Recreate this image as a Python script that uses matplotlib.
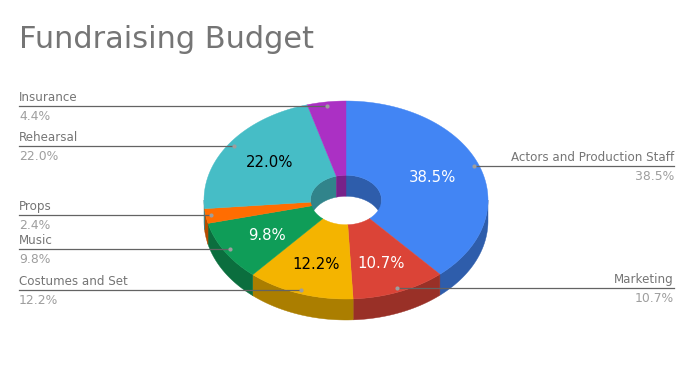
import numpy as np
import matplotlib
matplotlib.use("Agg")
import matplotlib.pyplot as plt
from matplotlib.colors import to_rgb

# valores
categorias = ["Actors and Production Staff", "Marketing", "Costumes and Set", "Music",
              "Props", "Rehearsal", "Insurance"]
valores = [38.5, 10.7, 12.2, 9.8, 2.4, 22.0, 4.4]
cores = ["#4285f4", "#db4437", "#f4b400", "#0f9d58", "#ff6d01", "#46bdc6", "#ab30c4"]
cor_texto = ["white", "white", "black", "white", "black", "black", "white"]

# geometria da pizza em pixels
cx, cy = 346, 200
rx, ry = 142, 99
frac_furo = 0.25
prof = 21
X_ESQ, X_DIR = 19, 674


def ponto(theta, r=1.0, dy=0):
    # theta em graus, sentido horario a partir do topo
    t = np.radians(theta)
    return cx + r * rx * np.sin(t), cy - r * ry * np.cos(t) + dy


def arco(a, b, r=1.0, dy=0):
    ts = np.linspace(a, b, max(int(abs(b - a)) * 2, 2))
    x, y = ponto(ts, r, dy)
    return np.column_stack([x, y])


def escurecer(cor, f=0.7):
    return tuple(c * f for c in to_rgb(cor))


fig = plt.figure(figsize=(6.93, 3.71), dpi=100)
ax = fig.add_axes([0, 0, 1, 1])
ax.set_xlim(0, 693)
ax.set_ylim(371, 0)
ax.axis("off")

fim = np.cumsum(valores) * 3.6
inicio = np.concatenate([[0], fim[:-1]])

# paredes externas (metade da frente)
for a, b, cor in zip(inicio, fim, cores):
    a2, b2 = max(a, 90), min(b, 270)
    if b2 > a2:
        poli = np.vstack([arco(a2, b2), arco(b2, a2, dy=prof)])
        ax.fill(poli[:, 0], poli[:, 1], color=escurecer(cor), lw=0.3, zorder=1)

# paredes internas (metade de tras do furo)
for a, b, cor in zip(inicio, fim, cores):
    for a2, b2 in [(a, min(b, 90)), (max(a, 270), b)]:
        if b2 > a2:
            poli = np.vstack([arco(a2, b2, frac_furo), arco(b2, a2, frac_furo, prof)])
            ax.fill(poli[:, 0], poli[:, 1], color=escurecer(cor), lw=0.3, zorder=2)

# faces de cima
for a, b, cor in zip(inicio, fim, cores):
    poli = np.vstack([arco(a, b), arco(b, a, frac_furo)])
    ax.fill(poli[:, 0], poli[:, 1], color=cor, lw=0.3, zorder=3)

# percentuais dentro das fatias e rotulos com linha
for nome, v, a, b, cor_t in zip(categorias, valores, inicio, fim, cor_texto):
    meio = (a + b) / 2
    if v > 5:
        tx = ponto(meio, 0.65)[0]
        ty = ponto(meio, 0.68, dy=1)[1]
        ax.text(tx, ty, f"{v:.1f}%", color=cor_t, fontsize=10.7, ha="center", va="center", zorder=5)
    px, py = ponto(meio, 0.96)
    py = round(py)
    direita = meio < 180
    x_fim = X_DIR if direita else X_ESQ
    alinh = "right" if direita else "left"
    ax.plot([px, x_fim], [py, py], color="#636363", lw=0.9, zorder=4)
    ax.plot(px, py, "o", color="#9e9e9e", ms=3, mew=0, zorder=5)
    ax.text(x_fim, py - 8.5, nome, color="#757575", fontsize=8.6, ha=alinh, va="center")
    ax.text(x_fim, py + 10.5, f"{v:.1f}%", color="#9e9e9e", fontsize=8.9, ha=alinh, va="center")

ax.text(X_ESQ, 39, "Fundraising Budget", color="#757575", fontsize=21.9, ha="left", va="center")

fig.savefig("out.png", dpi=100)
